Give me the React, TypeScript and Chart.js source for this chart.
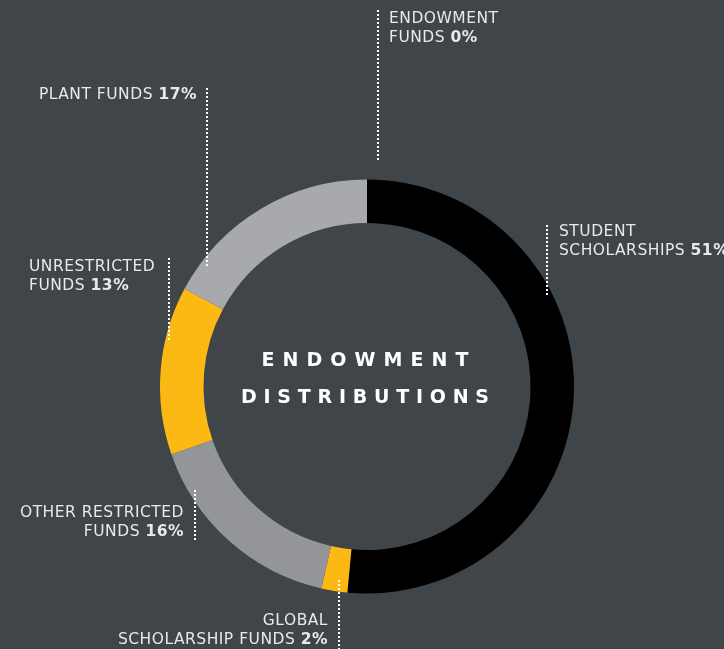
import React, { useEffect, useRef } from "react";
import { Chart, registerables } from "chart.js";

Chart.register(...registerables);

const categories = [
  "STUDENT SCHOLARSHIPS",
  "GLOBAL SCHOLARSHIP FUNDS",
  "OTHER RESTRICTED FUNDS",
  "UNRESTRICTED FUNDS",
  "PLANT FUNDS",
  "ENDOWMENT FUNDS",
];
const values = [51, 2, 16, 13, 17, 0];
const colors = ["#000000", "#fdb913", "#939598", "#fdb913", "#a7a9ac", "#6d6e71"];
const labelLines = [
  ["STUDENT", "SCHOLARSHIPS "],
  ["GLOBAL", "SCHOLARSHIP FUNDS "],
  ["OTHER RESTRICTED", "FUNDS "],
  ["UNRESTRICTED", "FUNDS "],
  ["PLANT FUNDS "],
  ["ENDOWMENT", "FUNDS "],
];
const centerTitle = ["ENDOWMENT", "DISTRIBUTIONS"];

const BG = "#3f4548";
const TEXT = "#e8e9ea";
const FONT = "'DejaVu Sans', sans-serif";

// layout of annotation labels (x, first baseline, align, leader line x, y0, y1)
const labelLayout = [
  { x: 559, y: 236, align: "left", lx: 547, ly0: 225, ly1: 296 },
  { x: 328, y: 625, align: "right", lx: 339, ly0: 580, ly1: 649 },
  { x: 184, y: 517, align: "right", lx: 195, ly0: 490, ly1: 541 },
  { x: 29, y: 271, align: "left", lx: 169, ly0: 258, ly1: 341 },
  { x: 197, y: 99, align: "right", lx: 207, ly0: 88, ly1: 266 },
  { x: 389, y: 23, align: "left", lx: 378, ly0: 10, ly1: 162 },
];

const annotationPlugin = {
  id: "annotations",
  afterDraw(chart: any) {
    const ctx = chart.ctx as any;
    const meta = chart.getDatasetMeta(0);
    const arc0 = meta.data[0];
    const cx = arc0.x;
    ctx.save();
    // leader lines
    ctx.strokeStyle = "#ffffff";
    ctx.lineWidth = 2;
    ctx.setLineDash([2, 2]);
    labelLayout.forEach((l) => {
      ctx.beginPath();
      ctx.moveTo(l.lx, l.ly0);
      ctx.lineTo(l.lx, l.ly1);
      ctx.stroke();
    });
    ctx.setLineDash([]);
    // labels
    const normal = `400 15.5px ${FONT}`;
    const bold = `700 15.5px ${FONT}`;
    ctx.fillStyle = TEXT;
    ctx.textBaseline = "alphabetic";
    ctx.letterSpacing = "0.5px";
    labelLayout.forEach((l, i) => {
      const lines = labelLines[i];
      lines.forEach((line, j) => {
        const isLast = j === lines.length - 1;
        const pct = isLast ? `${values[i]}%` : "";
        ctx.font = normal;
        const w1 = ctx.measureText(line).width;
        ctx.font = bold;
        const w2 = pct ? ctx.measureText(pct).width : 0;
        const total = w1 + w2;
        const startX = l.align === "left" ? l.x : l.x - total;
        const y = l.y + j * 19;
        ctx.textAlign = "left";
        ctx.font = normal;
        ctx.fillText(line, startX, y);
        if (pct) {
          ctx.font = bold;
          ctx.fillText(pct, startX + w1, y);
        }
      });
    });
    ctx.letterSpacing = "0px";
    // center title
    const targets = [207, 248];
    const baselines = [366, 403];
    ctx.fillStyle = "#ffffff";
    ctx.font = `700 19px ${FONT}`;
    centerTitle.forEach((t, k) => {
      const chars = t.split("");
      const widths = chars.map((c) => ctx.measureText(c).width);
      const sum = widths.reduce((a, b) => a + b, 0);
      const gap = (targets[k] - sum) / (chars.length - 1);
      let x = cx - 2 - targets[k] / 2;
      chars.forEach((c, idx) => {
        ctx.fillText(c, x, baselines[k]);
        x += widths[idx] + gap;
      });
    });
    ctx.restore();
  },
};

export default function App() {
  const canvasRef = useRef<HTMLCanvasElement | null>(null);
  useEffect(() => {
    document.body.style.margin = "0";
    const chart = new Chart(canvasRef.current as HTMLCanvasElement, {
      type: "doughnut",
      data: {
        labels: categories,
        datasets: [
          {
            data: values,
            backgroundColor: colors,
            borderWidth: 0,
            hoverOffset: 0,
          },
        ],
      },
      options: {
        responsive: false,
        animation: false,
        cutout: "79%",
        rotation: 0,
        layout: { padding: { left: 160, top: 179, right: 150, bottom: 55 } },
        plugins: {
          legend: { display: false },
          tooltip: { enabled: false },
          title: { display: false },
        },
        events: [],
      },
      plugins: [annotationPlugin],
    });
    return () => chart.destroy();
  }, []);
  return (
    <div style={{ width: 724, height: 649, background: BG, position: "relative" }}>
      <canvas ref={canvasRef} width={724} height={649} style={{ display: "block" }} />
    </div>
  );
}
